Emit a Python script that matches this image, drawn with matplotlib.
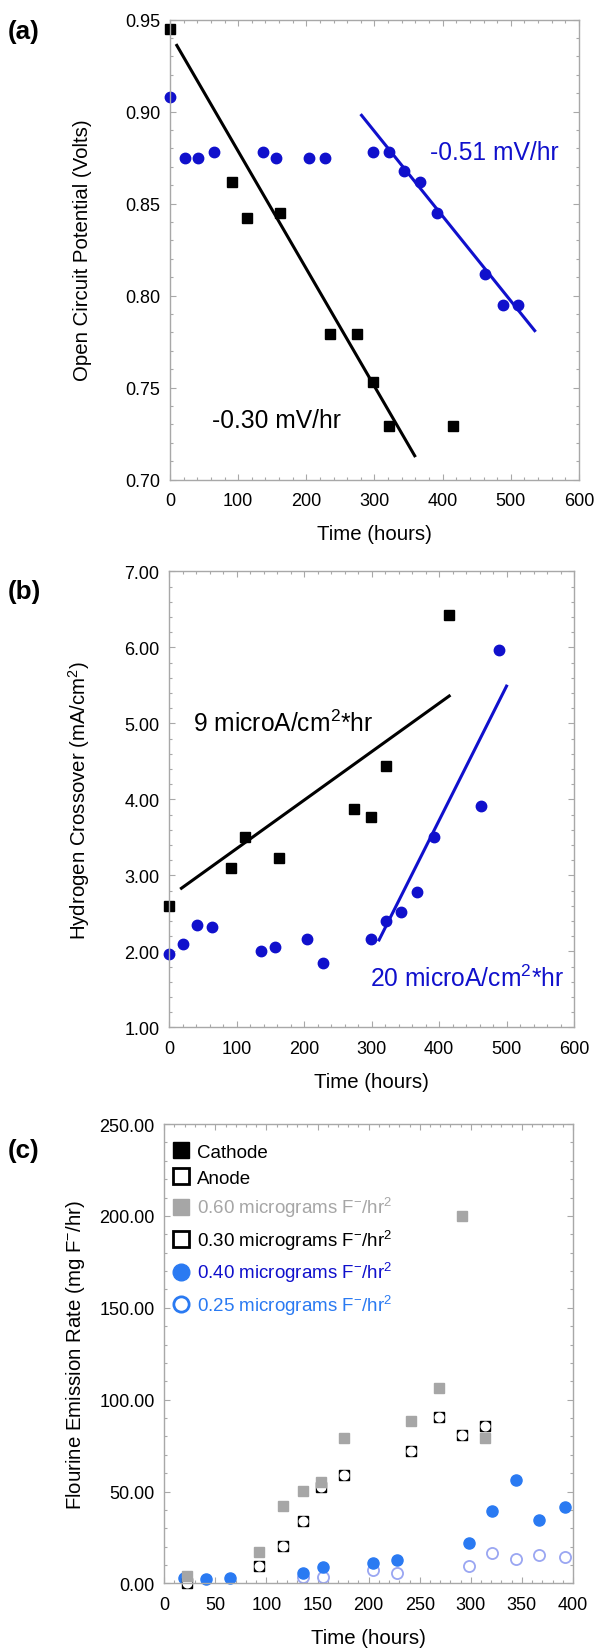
import numpy as np
import matplotlib
matplotlib.use("Agg")
import matplotlib.pyplot as plt
from matplotlib.ticker import MultipleLocator, FormatStrFormatter
from matplotlib.lines import Line2D

plt.rcParams['font.family'] = ['Liberation Sans', 'DejaVu Sans']
plt.rcParams['mathtext.fontset'] = 'custom'
plt.rcParams['mathtext.rm'] = 'Liberation Sans'
plt.rcParams['mathtext.it'] = 'Liberation Sans:italic'
plt.rcParams['mathtext.bf'] = 'Liberation Sans:bold'

# (a) open circuit potential
a_sq_t = [0, 91, 113, 161, 234, 274, 298, 321, 415]
a_sq_v = [0.945, 0.862, 0.842, 0.845, 0.779, 0.779, 0.753, 0.729, 0.729]
a_ci_t = [0, 22, 41, 64, 136, 156, 204, 227, 298, 321, 344, 367, 392, 462, 489, 511]
a_ci_v = [0.908, 0.875, 0.875, 0.878, 0.878, 0.875, 0.875, 0.875, 0.878, 0.878,
          0.868, 0.862, 0.845, 0.812, 0.795, 0.795]
a_fit_blk_t = [10, 359]
a_fit_blk_v = [0.936, 0.713]
a_fit_blu_t = [281, 535]
a_fit_blu_v = [0.898, 0.781]

# (b) hydrogen crossover
b_sq_t = [0, 91, 113, 162, 274, 299, 322, 415]
b_sq_v = [2.59, 3.10, 3.50, 3.23, 3.87, 3.77, 4.44, 6.42]
b_ci_t = [0, 21, 41, 64, 136, 156, 204, 228, 299, 322, 344, 367, 392, 462, 489]
b_ci_v = [1.97, 2.10, 2.34, 2.32, 2.00, 2.06, 2.16, 1.84, 2.16, 2.40, 2.52, 2.78,
          3.50, 3.91, 5.96]
b_fit_blk_t = [18, 415]
b_fit_blk_v = [2.83, 5.36]
b_fit_blu_t = [311, 500]
b_fit_blu_v = [2.15, 5.49]

# (c) fluorine emission
c_sq_t = [22.6, 93.1, 115.8, 135.4, 153.2, 175.9, 241.2, 269, 291.3, 313.9]
c_gray_v = [4.0, 17.3, 42.1, 50.3, 55.4, 79.2, 88.5, 106.2, 200.0, 79.2]
c_open_v = [0.4, 9.7, 20.6, 33.7, 52.4, 59.0, 72.0, 90.4, 80.9, 85.9]
c_blue_t = [19, 41.2, 64.2, 135.8, 155.8, 204.5, 227.5, 298.3, 321, 344, 367, 391.8]
c_blue_v = [2.9, 2.5, 3.0, 5.9, 9.1, 11.0, 12.8, 22.1, 39.6, 56.4, 34.5, 41.5]
c_lt_t = [135.8, 155.8, 204.5, 227.5, 298.3, 321, 344, 367, 391.8]
c_lt_v = [3.6, 3.6, 7.4, 5.9, 9.7, 16.4, 13.3, 15.6, 14.3]

BLUE = '#1010cc'
CBLUE = '#2a7af2'
LBLUE = '#9aa6f2'
GRAY = '#a6a6a6'

fig = plt.figure(figsize=(5.95, 16.49), dpi=100)
ax1 = fig.add_axes([0.2857, 0.7085, 0.6874, 0.2790])
ax2 = fig.add_axes([0.2845, 0.3764, 0.6802, 0.2765])
ax3 = fig.add_axes([0.2761, 0.0392, 0.6869, 0.2785])


def style(ax, xmaj, xmin, ymaj, ymin, yfmt):
    for s in ax.spines.values():
        s.set_color('#a8a8a8')
        s.set_linewidth(1.0)
    ax.tick_params(which='both', direction='in', top=True, right=True,
                   color='#a8a8a8', labelsize=13, pad=7)
    ax.tick_params(axis='x', which='both', pad=9)
    ax.tick_params(which='major', length=4.5, width=0.8)
    ax.tick_params(which='minor', length=2.5, width=0.8)
    ax.xaxis.set_major_locator(MultipleLocator(xmaj))
    ax.xaxis.set_minor_locator(MultipleLocator(xmin))
    ax.yaxis.set_major_locator(MultipleLocator(ymaj))
    ax.yaxis.set_minor_locator(MultipleLocator(ymin))
    ax.yaxis.set_major_formatter(FormatStrFormatter(yfmt))
    ax.set_xlabel('Time (hours)', fontsize=14.7, labelpad=11)
    ax.yaxis.set_label_coords(-0.19, 0.5)


# panel a
ax1.plot(a_fit_blk_t, a_fit_blk_v, color='black', lw=2.2)
ax1.plot(a_fit_blu_t, a_fit_blu_v, color=BLUE, lw=2.2)
ax1.plot(a_sq_t, a_sq_v, 's', color='black', ms=7.5, clip_on=False)
ax1.plot(a_ci_t, a_ci_v, 'o', color=BLUE, ms=7.5, clip_on=False)
ax1.set_xlim(0, 600)
ax1.set_ylim(0.70, 0.95)
style(ax1, 100, 20, 0.05, 0.01, '%.2f')
ax1.set_ylabel('Open Circuit Potential (Volts)', fontsize=14.7)
ax1.text(381, 0.8745, '-0.51 mV/hr', color=BLUE, fontsize=17.7, va='baseline')
ax1.text(61, 0.7287, '-0.30 mV/hr', color='black', fontsize=17.7, va='baseline')

# panel b
ax2.plot(b_fit_blk_t, b_fit_blk_v, color='black', lw=2.2)
ax2.plot(b_fit_blu_t, b_fit_blu_v, color=BLUE, lw=2.2)
ax2.plot(b_sq_t, b_sq_v, 's', color='black', ms=7.5, clip_on=False)
ax2.plot(b_ci_t, b_ci_v, 'o', color=BLUE, ms=7.5, clip_on=False)
ax2.set_xlim(0, 600)
ax2.set_ylim(1.0, 7.0)
style(ax2, 100, 20, 1.0, 0.2, '%.2f')
ax2.set_ylabel(r'Hydrogen Crossover (mA/cm$^2$)', fontsize=14.7)
ax2.text(35, 4.90, r'9 microA/cm$^2$*hr', color='black', fontsize=17.7, va='baseline')
ax2.text(297, 1.548, r'20 microA/cm$^2$*hr', color=BLUE, fontsize=17.7, va='baseline')

# panel c
ax3.plot(c_lt_t, c_lt_v, 'o', mfc='none', mec=LBLUE, mew=1.3, ms=8, clip_on=False)
ax3.plot(c_blue_t, c_blue_v, 'o', color=CBLUE, ms=8, clip_on=False)
ax3.plot(c_sq_t, c_open_v, 's', color='black', ms=7.5, clip_on=False)
ax3.plot(c_sq_t, c_open_v, 'o', color='white', ms=6.2, clip_on=False)
ax3.plot(c_sq_t, c_gray_v, 's', color=GRAY, ms=7.5, clip_on=False)
ax3.set_xlim(0, 400)
ax3.set_ylim(0, 250)
style(ax3, 50, 10, 50, 10, '%.2f')
ax3.set_ylabel(r'Flourine Emission Rate (mg F$^{-}$/hr)', fontsize=14.7)

handles = [
    Line2D([], [], ls='none', marker='s', color='black', ms=12),
    Line2D([], [], ls='none', marker='s', mfc='white', mec='black', mew=2, ms=11),
    Line2D([], [], ls='none', marker='s', color=GRAY, ms=12),
    Line2D([], [], ls='none', marker='s', mfc='white', mec='black', mew=2, ms=11),
    Line2D([], [], ls='none', marker='o', color=CBLUE, ms=12),
    Line2D([], [], ls='none', marker='o', mfc='white', mec=CBLUE, mew=2, ms=11),
]
labels = ['Cathode', 'Anode',
          r'0.60 micrograms F$^{-}$/hr$^2$',
          r'0.30 micrograms F$^{-}$/hr$^2$',
          r'0.40 micrograms F$^{-}$/hr$^2$',
          r'0.25 micrograms F$^{-}$/hr$^2$']
label_colors = ['black', 'black', GRAY, 'black', BLUE, CBLUE]
leg = ax3.legend(handles, labels, loc='upper left', bbox_to_anchor=(0.011, 0.965),
                 frameon=False, fontsize=13.5, handlelength=0.9, handletextpad=0.38,
                 borderpad=0.2, borderaxespad=0, labelspacing=0.45)
for t, c in zip(leg.get_texts(), label_colors):
    t.set_color(c)

for lab, yy in [('(a)', 0.9806), ('(b)', 0.6412), ('(c)', 0.3018)]:
    fig.text(0.0123, yy, lab, fontsize=18.7, fontweight='bold', ha='left', va='center')

fig.savefig('out.png', dpi=100)
